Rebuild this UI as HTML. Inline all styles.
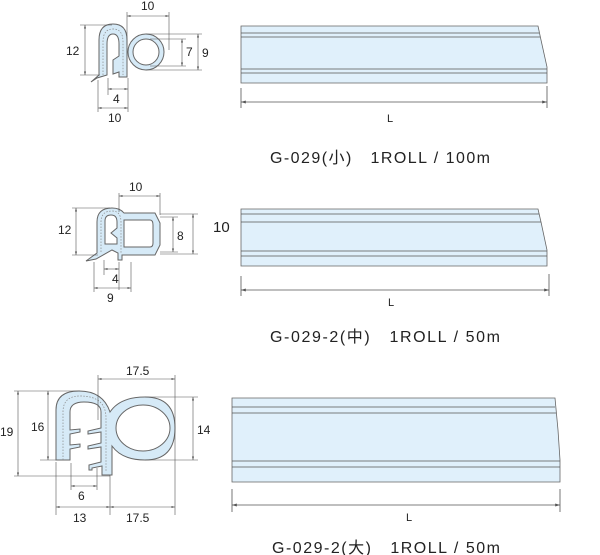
<!DOCTYPE html>
<html><head><meta charset="utf-8"><style>
body{margin:0;background:#fff}
svg{display:block}
text{font-family:"Liberation Sans","Noto Sans CJK KR",sans-serif;fill:#222}
</style></head><body>
<svg width="600" height="555" viewBox="0 0 600 555" xmlns="http://www.w3.org/2000/svg">
<defs>
<marker id="a" viewBox="0 0 10 10" refX="10" refY="5" markerWidth="6" markerHeight="6" orient="auto-start-reverse"><path d="M0,2 L10,5 L0,8 z" fill="#555"/></marker>
</defs>
<g stroke="#555" stroke-width="0.8" fill="none">
<path d="M241,26 H538 L541,40 L547,67 V83 H241 Z" fill="#e0f0fb" stroke="#666"/>
<path d="M241,33 H539 M241,37 H540 M241,69 H547 M241,73 H547"/>
<path d="M241,88 V108 M547,86 V108"/>
<line x1="241" y1="102" x2="547" y2="102" marker-start="url(#a)" marker-end="url(#a)"/>
<path d="M241,209 H538 L541,222 L547,250 V266 H241 Z" fill="#e0f0fb" stroke="#666"/>
<path d="M241,214 H539 M241,222 H541 M241,251 H547 M241,256 H547"/>
<path d="M241,276 V296 M549,274 V296"/>
<line x1="241" y1="290" x2="549" y2="290" marker-start="url(#a)" marker-end="url(#a)"/>
<path d="M232,398 H555 L558,430 L560,460 V482 H232 Z" fill="#e0f0fb" stroke="#666"/>
<path d="M232,407 H555 M232,413 H556 M232,461 H560 M232,467 H560"/>
<path d="M232,489 V512 M560,489 V512"/>
<line x1="232" y1="505" x2="560" y2="505" marker-start="url(#a)" marker-end="url(#a)"/>
</g>
<text x="390" y="122" font-size="11" text-anchor="middle">L</text>
<text x="391" y="306" font-size="11" text-anchor="middle">L</text>
<text x="409" y="521" font-size="11" text-anchor="middle">L</text>
<text x="270" y="163" font-size="16" textLength="220" lengthAdjust="spacing">G-029(小)&#160;&#160;&#160;1ROLL / 100m</text>
<text x="270" y="342" font-size="16" textLength="230" lengthAdjust="spacing">G-029-2(中)&#160;&#160;&#160;1ROLL / 50m</text>
<text x="272" y="553" font-size="16" textLength="228" lengthAdjust="spacing">G-029-2(大)&#160;&#160;&#160;1ROLL / 50m</text>

<!-- profile 1 -->
<g stroke="#666" stroke-width="1" fill="#d6eaf7">
<path d="M99,75 V40 Q99,24 113,24 Q127,24 127,40 V77 H119 V72 L113,74 V60 L119,56 V44 Q119,34 113,34 Q107,34 107,44 V75 L97,78 L91,82 Z"/>
<circle cx="146" cy="52" r="18"/>
<circle cx="146" cy="52" r="13" fill="#fff"/>
</g>
<path d="M103,75 V42 Q103,29 113,29 Q123,29 123,42 V75" fill="none" stroke="#888" stroke-dasharray="1.5,1.5" stroke-width="0.7"/>
<g stroke="#555" stroke-width="0.6" fill="none">
<path d="M80,25 H112 M80,75 H100 M127,12 V45 M169,12 V50 M150,39 H186 M146,34 H202 M146,70 H202 M150,66 H186 M108,78 V95 M128,78 V112 M98,80 V112"/>
</g>
<g stroke="#555" stroke-width="0.6" marker-start="url(#a)" marker-end="url(#a)">
<line x1="85" y1="25" x2="85" y2="75"/>
<line x1="127" y1="16" x2="169" y2="16"/>
<line x1="182" y1="39" x2="182" y2="66"/>
<line x1="198" y1="34" x2="198" y2="70"/>
<line x1="108" y1="89" x2="128" y2="89"/>
<line x1="98" y1="108" x2="128" y2="108"/>
</g>
<g font-size="12">
<text x="66" y="55">12</text><text x="141" y="10">10</text><text x="186" y="56">7</text><text x="202" y="57">9</text>
<text x="113" y="103">4</text><text x="108" y="122">10</text>
</g>

<!-- profile 2 -->
<g stroke="#666" stroke-width="1" fill="#d6eaf7">
<path d="M97,253 V222 Q97,208 112,208 Q120,208 124,213 L155,213 L160,223 V245 L155,255 H122 V260 H118 V253 L112,250 L96,259 L86,261 Z"/>
<path d="M124,220 H150 Q153,220 153,225 V243 Q153,247 150,247 H124 Z" fill="#fff"/>
<path d="M105,244 V221 Q105,215 111,215 Q117,215 117,222 V228 L111,233 L117,238 V244 Z" fill="#fff"/>
</g>
<path d="M101,252 V222 Q101,211 112,211 Q121,211 121,222 V254" fill="none" stroke="#888" stroke-dasharray="1.5,1.5" stroke-width="0.7"/>
<g stroke="#555" stroke-width="0.6" fill="none">
<path d="M72,208 H110 M72,255 H98 M119,193 V212 M160,193 V215 M160,217 H178 M160,214 H198 M160,254 H198 M160,252 H178 M104,260 V275 M119,262 V290 M94,262 V292 M131,262 V292"/>
</g>
<g stroke="#555" stroke-width="0.6" marker-start="url(#a)" marker-end="url(#a)">
<line x1="76" y1="208" x2="76" y2="255"/>
<line x1="119" y1="196" x2="160" y2="196"/>
<line x1="173" y1="217" x2="173" y2="252"/>
<line x1="193" y1="214" x2="193" y2="254"/>
<line x1="104" y1="269" x2="119" y2="269"/>
<line x1="94" y1="288" x2="131" y2="288"/>
</g>
<g font-size="12">
<text x="58" y="234">12</text><text x="129" y="191">10</text><text x="177" y="240">8</text>
<text x="112" y="283">4</text><text x="107" y="302">9</text>
</g>
<text x="213" y="232" font-size="15">10</text>

<!-- profile 3 -->
<g stroke="#666" stroke-width="1" fill="#d6eaf7">
<path d="M56,460 V410 Q56,391 79,391 Q103,391 110,412 Q120,397 145,397 Q175,397 175,428 Q175,460 145,460 Q122,460 112,446 V475 H102 V466 L92,468 V470 L89,470 V465 L101,462 V447 L88,449 V446 L101,443 V432 L88,434 V431 L101,428 V412 Q101,402 84,402 Q70,402 70,412 V430 L80,429 V432 L70,434 V445 L80,444 V447 L70,449 V460 Z"/>
<ellipse cx="143" cy="428" rx="27" ry="23" fill="#fff"/>
</g>
<path d="M63,460 V412 Q63,396 80,396 Q106,396 106,418 V472" fill="none" stroke="#888" stroke-dasharray="1.5,1.5" stroke-width="0.7"/>
<g stroke="#555" stroke-width="0.6" fill="none">
<path d="M14,391 H80 M14,476 H110 M40,460 H56 M98,375 V420 M175,375 V515 M145,397 H198 M145,460 H198 M71,463 V490 M97,468 V490 M56,462 V515 M110,475 V515"/>
</g>
<g stroke="#555" stroke-width="0.6" marker-start="url(#a)" marker-end="url(#a)">
<line x1="18" y1="391" x2="18" y2="476"/>
<line x1="48" y1="391" x2="48" y2="460"/>
<line x1="98" y1="379" x2="175" y2="379"/>
<line x1="193" y1="397" x2="193" y2="460"/>
<line x1="71" y1="486" x2="97" y2="486"/>
<line x1="56" y1="507" x2="110" y2="507"/>
<line x1="110" y1="507" x2="175" y2="507"/>
</g>
<g font-size="12">
<text x="0" y="436">19</text><text x="31" y="431">16</text><text x="126" y="375">17.5</text><text x="197" y="434">14</text>
<text x="78" y="500">6</text><text x="73" y="522">13</text><text x="126" y="522">17.5</text>
</g>
</svg>
</body></html>
